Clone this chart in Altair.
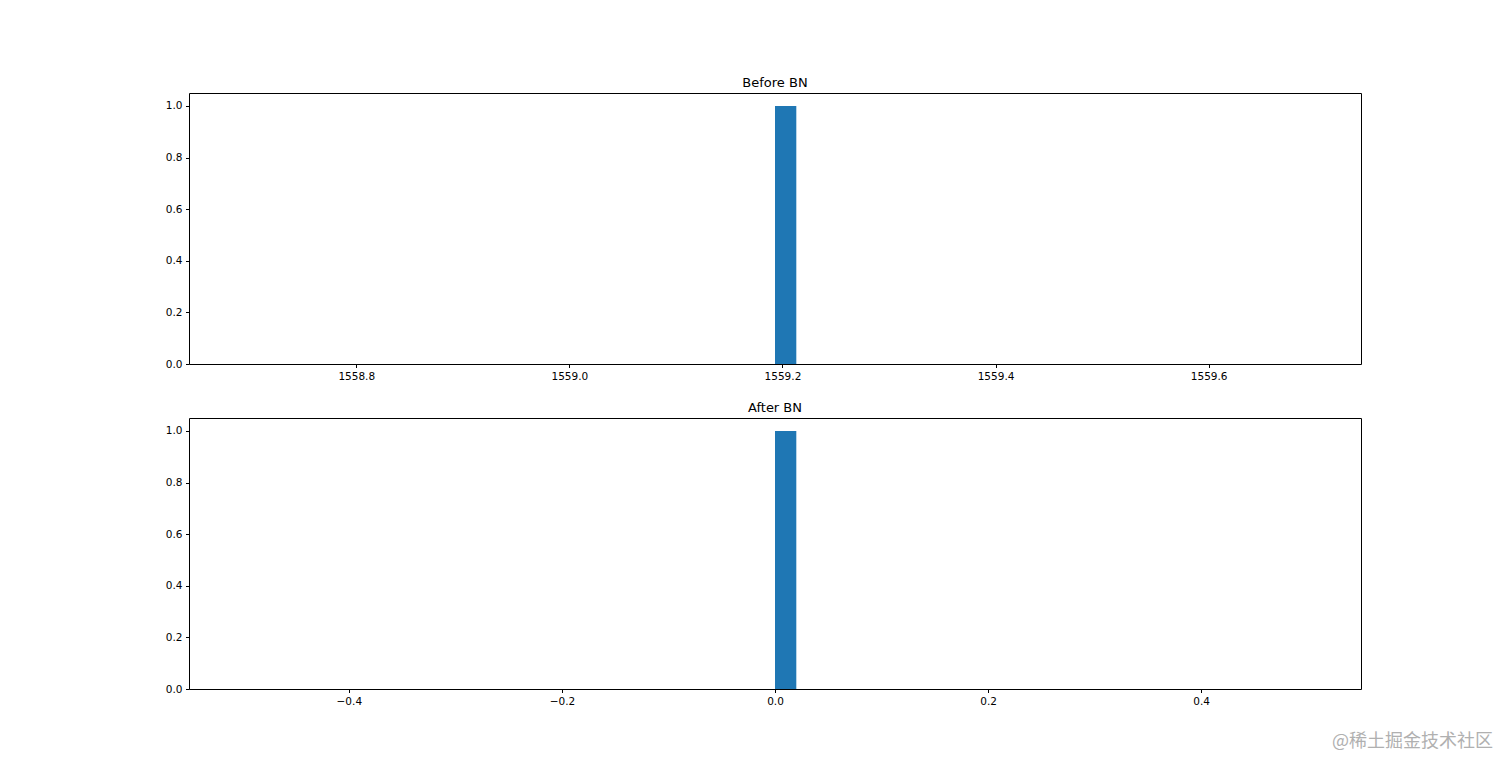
import altair as alt
import numpy as np
import pandas as pd

# Raw data (single value per layer)
before_values = [1559.193]
after_values = [0.0]
titles = ["Before BN", "After BN"]
before_ticks = [1558.8, 1559.0, 1559.2, 1559.4, 1559.6]
after_ticks = [-0.4, -0.2, 0.0, 0.2, 0.4]
y_ticks = [0.0, 0.2, 0.4, 0.6, 0.8, 1.0]
n_bins = 50
watermark = "@稀土掘金技术社区"

W, H = 1172, 271
FONT = "DejaVu Sans"
BLUE = "#1f77b4"


def hist_df(vals):
    v = vals[0]
    counts, edges = np.histogram(vals, bins=n_bins, range=(v - 0.5, v + 0.5))
    return pd.DataFrame({"start": edges[:-1], "end": edges[1:], "count": counts})


def panel(vals, ticks, title, extra=None):
    v = vals[0]
    df = hist_df(vals)
    base = alt.Chart(df).mark_bar(color=BLUE, stroke=None).encode(
        x=alt.X("start:Q",
                scale=alt.Scale(domain=[v - 0.55, v + 0.55], nice=False, zero=False),
                axis=alt.Axis(values=ticks, format=".1f", title=None, grid=False,
                              domain=False, tickColor="black", tickSize=3.5,
                              labelPadding=3.5, labelFontSize=10.5, labelFont=FONT,
                              labelColor="black")),
        x2="end:Q",
        y=alt.Y("count:Q",
                scale=alt.Scale(domain=[0, 1.05], nice=False),
                axis=alt.Axis(values=y_ticks, format=".1f", title=None, grid=False,
                              domain=False, tickColor="black", tickSize=3.5,
                              labelPadding=3.5, labelFontSize=10.5, labelFont=FONT,
                              labelColor="black")),
        y2=alt.datum(0),
    )
    layers = [base]
    if extra is not None:
        layers.append(extra)
    return alt.layer(*layers).properties(
        width=W, height=H,
        title=alt.TitleParams(title, font=FONT, fontSize=13, fontWeight="normal",
                              color="black", offset=3),
    )


wm = alt.Chart(pd.DataFrame({"t": [watermark]})).mark_text(
    align="right", baseline="middle", fontSize=18, color="#b0b0b0",
    font="Noto Sans CJK SC", clip=False,
).encode(text="t:N", x=alt.value(1304), y=alt.value(324))

top = panel(before_values, before_ticks, titles[0])
bottom = panel(after_values, after_ticks, titles[1], extra=wm)

chart = alt.vconcat(top, bottom, spacing=54, bounds="flush").properties(
    padding={"left": 156, "top": 68, "right": 10, "bottom": 10},
).configure(background="white").configure_view(stroke="black", strokeWidth=1)

chart.save("out.html", embed_options={"renderer": "svg", "actions": False})
